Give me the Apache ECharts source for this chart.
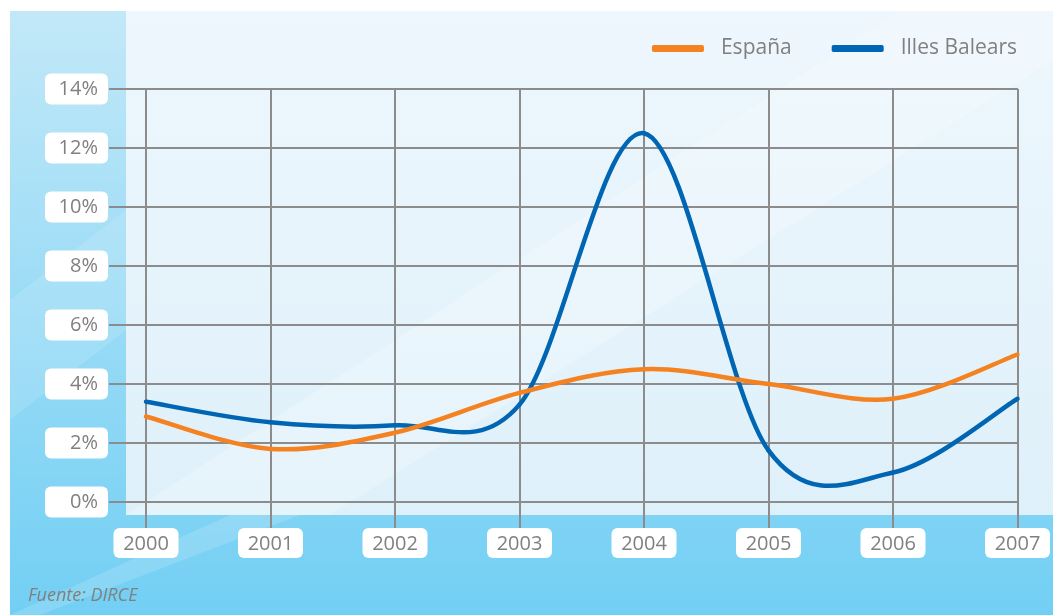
<!DOCTYPE html>
<html>
<head>
<meta charset="utf-8">
<style>
  html, body { margin: 0; padding: 0; background: #ffffff; }
  #chart { width: 1053px; height: 615px; }
</style>
<script src="https://cdn.jsdelivr.net/npm/echarts@6/dist/echarts.min.js"></script>
</head>
<body>
<div id="chart"></div>
<script>
// Yearly growth rates (%)
const years = ['2000', '2001', '2002', '2003', '2004', '2005', '2006', '2007'];
const espana = [2.9, 1.8, 2.35, 3.7, 4.5, 4.0, 3.5, 5.0];
const baleares = [3.4, 2.7, 2.6, 3.3, 12.5, 1.75, 1.0, 3.5];
const seriesNames = ['España', 'Illes Balears'];
const seriesColors = ['#f58220', '#0066b3'];
const yTicks = [0, 2, 4, 6, 8, 10, 12, 14];
const sourceText = 'Fuente: DIRCE';

const FONT = '"Open Sans", "Noto Sans", sans-serif';
const GRAY = '#808080';
const GRID_LINE = '#8c8c8c';

const chart = echarts.init(document.getElementById('chart'), null, { renderer: 'canvas' });

const labelBox = {
  color: GRAY,
  fontFamily: FONT,
  fontSize: 20,
  backgroundColor: '#ffffff',
  borderRadius: 6,
  lineHeight: 24
};

// Catmull-Rom curve segment between point i and i+1, drawn through axis coordinates
function splineRenderer(values, color) {
  return function (params, api) {
    const i = params.dataIndex;
    if (i >= values.length - 1) return null;
    const pt = k => {
      const j = Math.max(0, Math.min(values.length - 1, k));
      return api.coord([j, values[j]]);
    };
    const p0 = pt(i - 1), p1 = pt(i), p2 = pt(i + 1), p3 = pt(i + 2);
    const c1 = [p1[0] + (p2[0] - p0[0]) / 6, p1[1] + (p2[1] - p0[1]) / 6];
    const c2 = [p2[0] - (p3[0] - p1[0]) / 6, p2[1] - (p3[1] - p1[1]) / 6];
    return {
      type: 'bezierCurve',
      shape: { x1: p1[0], y1: p1[1], cpx1: c1[0], cpy1: c1[1], cpx2: c2[0], cpy2: c2[1], x2: p2[0], y2: p2[1] },
      style: { stroke: color, lineWidth: 4.5, fill: null, lineCap: 'round' }
    };
  };
}

function customLine(idx, values) {
  return {
    name: seriesNames[idx], type: 'custom', xAxisIndex: 1, yAxisIndex: 1,
    coordinateSystem: 'cartesian2d', clip: false, z: 3 - idx,
    itemStyle: { color: seriesColors[idx] },
    encode: { x: 0, y: 1 },
    data: values.map((v, k) => [k, v]),
    renderItem: splineRenderer(values, seriesColors[idx])
  };
}

chart.setOption({
  animation: false,
  graphic: [
    // outer panel
    {
      type: 'rect', silent: true, z: -10,
      shape: { x: 10, y: 11, width: 1043, height: 604 },
      style: {
        fill: new echarts.graphic.LinearGradient(0, 0, 0, 1, [
          { offset: 0, color: '#c2e8f8' },
          { offset: 1, color: '#72cff4' }
        ])
      }
    },
    // diagonal light streaks
    {
      type: 'polygon', silent: true, z: -9,
      shape: { points: [[10, 300], [126, 210], [126, 330], [10, 420]] },
      style: { fill: 'rgba(255,255,255,0.12)' }
    },
    {
      type: 'polygon', silent: true, z: -9,
      shape: { points: [[10, 615], [40, 615], [300, 515], [230, 515]] },
      style: { fill: 'rgba(255,255,255,0.15)' }
    },
    // inner plot panel
    {
      type: 'rect', silent: true, z: -8,
      shape: { x: 126, y: 11, width: 927, height: 504 },
      style: {
        fill: new echarts.graphic.LinearGradient(0, 0, 0, 1, [
          { offset: 0, color: '#eef7fd' },
          { offset: 1, color: '#def0fa' }
        ])
      }
    },
    {
      type: 'polygon', silent: true, z: -7,
      shape: { points: [[126, 515], [330, 515], [1053, 60], [1053, 11], [900, 11]] },
      style: { fill: 'rgba(255,255,255,0.22)' }
    },
    {
      type: 'text', left: 28, top: 587,
      style: { text: sourceText, fill: GRAY, font: 'italic 18px ' + FONT }
    }
  ],
  legend: {
    data: seriesNames,
    right: 31,
    top: 33,
    icon: 'roundRect',
    itemWidth: 52,
    itemHeight: 7,
    itemGap: 40,
    textStyle: { color: GRAY, fontFamily: FONT, fontSize: 21, padding: [0, 0, 0, 12] }
  },
  grid: [
    { left: 109, right: 35, top: 89, bottom: 113 },
    { left: 146, right: 35, top: 89, bottom: 113 }
  ],
  xAxis: [
    { gridIndex: 0, type: 'value', show: false, min: 0, max: 1 },
    {
      gridIndex: 1, type: 'category', data: years, boundaryGap: false,
      axisLine: { show: false },
      axisTick: { show: true, length: 26, lineStyle: { color: GRID_LINE, width: 2 } },
      splitLine: { show: true, lineStyle: { color: GRID_LINE, width: 2 } },
      axisLabel: Object.assign({}, labelBox, { margin: 26, width: 65, align: 'center', padding: [4, 0, 2, 0] })
    }
  ],
  yAxis: [
    {
      gridIndex: 0, type: 'value', min: 0, max: 14, interval: 2,
      axisLine: { show: false }, axisTick: { show: false },
      splitLine: { show: true, lineStyle: { color: GRID_LINE, width: 2 } },
      axisLabel: Object.assign({}, labelBox, {
        margin: 1, width: 53, align: 'right', padding: [4, 10, 3, 0],
        formatter: v => v + '%'
      })
    },
    {
      gridIndex: 1, type: 'value', min: 0, max: 14, interval: 2, show: false
    }
  ],
  series: [customLine(0, espana), customLine(1, baleares)]
});
</script>
</body>
</html>
